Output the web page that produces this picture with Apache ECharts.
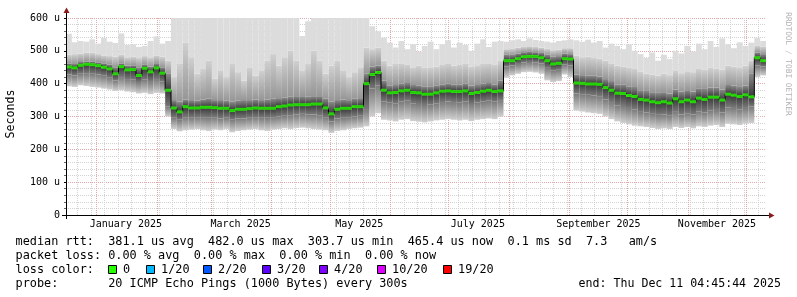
<!DOCTYPE html>
<html><head><meta charset="utf-8">
<script src="https://cdn.jsdelivr.net/npm/echarts@6/dist/echarts.min.js"></script>
<style>html,body{margin:0;padding:0;background:#fff}#c{width:797px;height:297px}</style>
</head><body><div id="c"></div>
<script>
// ---- time range ----
const startMs = Date.UTC(2024, 11, 16, 4, 45, 44);
const endMs = Date.UTC(2025, 11, 11, 4, 45, 44);
const stepDays = 3;

// ---- data (microseconds), one value per 3-day step ----
const medianRtt = [451,448,456,459,458,455,450,445,430,452,442,443,425,447,436,448,432,380,
  326,314,330,326,326,328,328,327,325,325,318,322,322,324,326,325,325,325,330,332,335,336,336,336,338,338,326,308,322,325,325,330,330,
  400,428,434,380,
  372,373,378,380,373,372,368,368,372,377,378,376,376,378,370,373,377,380,376,378,
  470,470,476,482,483,483,479,470,460,462,476,475,
  402,401,399,399,398,388,380,371,370,364,361,352,350,345,342,345,341,354,345,350,345,356,352,359,359,350,368,365,361,366,360,
  479,470];
const minRtt = [392,390,395,393,390,388,385,382,378,380,376,374,370,372,368,372,370,300,
  262,255,258,260,262,258,256,260,258,262,252,256,258,260,262,258,256,260,262,264,262,265,266,264,262,260,258,250,256,258,262,264,266,
  270,300,310,290,
  288,285,290,292,286,284,282,285,288,290,292,290,288,290,286,290,292,294,292,300,
  418,425,430,435,436,434,430,410,405,408,428,420,
  318,315,312,310,308,300,292,285,280,276,272,270,268,265,262,264,262,268,265,268,264,270,268,272,274,268,278,276,274,278,280,
  420,425];
const lowQuart = [428,425,430,432,430,428,424,418,410,420,414,412,405,412,408,414,406,330,
  296,290,298,296,298,298,296,298,294,296,290,294,294,296,298,296,296,298,300,302,304,306,308,306,306,304,298,285,294,296,298,300,302,
  320,385,395,345,
  342,340,345,348,340,338,335,336,340,344,346,344,342,345,338,342,345,348,345,350,
  452,455,460,465,466,465,462,448,440,442,458,455,
  370,368,366,364,362,352,344,334,332,326,322,314,312,308,305,306,304,314,306,310,306,316,312,318,320,312,328,326,322,326,330,
  455,452];
const highQuart = [462,460,466,468,468,465,462,458,450,462,455,456,448,458,452,460,450,430,
  350,345,352,350,348,352,354,350,350,348,345,348,350,350,352,350,352,354,356,358,360,362,362,360,362,362,354,345,350,352,350,354,356,
  430,452,455,410,
  395,396,400,402,396,395,392,392,395,398,400,398,398,400,394,396,400,402,398,410,
  488,488,492,496,497,496,494,488,482,484,492,490,
  428,426,424,424,422,414,408,398,398,392,390,380,378,374,372,374,370,382,376,380,376,386,384,388,388,382,396,394,390,394,430,
  495,490];
const high90 = [488,490,492,495,494,490,486,484,482,488,480,482,478,484,480,486,482,470,
  420,460,525,480,430,445,470,415,440,420,460,435,410,450,425,440,470,490,455,480,500,470,440,460,500,470,430,455,470,440,420,435,450,
  510,505,510,470,
  455,460,462,458,450,455,448,450,452,458,462,455,458,460,452,456,460,462,458,470,
  505,506,510,512,514,512,510,506,502,504,508,508,
  485,480,482,478,476,470,462,455,452,448,445,436,430,428,425,430,426,440,432,438,435,445,442,448,446,442,455,452,450,455,470,
  515,512];
const maxRtt = [552,526,530,528,535,522,540,528,524,553,518,520,512,515,530,544,522,530,
  650,650,650,650,650,650,650,650,650,650,650,650,650,650,650,650,650,650,650,650,650,640,545,590,650,650,650,650,650,650,650,650,650,
  650,575,560,540,
  525,510,530,505,520,498,515,528,505,520,532,510,525,518,500,522,535,512,528,530,
  528,532,535,530,538,533,530,528,525,530,532,535,
  532,528,534,525,530,510,522,515,505,520,500,490,478,495,470,488,475,500,492,515,498,522,505,530,512,538,520,508,526,515,525,
  540,530];

// ---- axis ticks / labels ----
const yTickValues = [0, 100, 200, 300, 400, 500, 600];
const monthStarts = ['2025-01-01','2025-02-01','2025-03-01','2025-04-01','2025-05-01','2025-06-01',
  '2025-07-01','2025-08-01','2025-09-01','2025-10-01','2025-11-01','2025-12-01'];
const monthLabelDates = ['2025-01-16','2025-03-16','2025-05-16','2025-07-16','2025-09-16','2025-11-16'];
const monthLabelTexts = ['January 2025','March 2025','May 2025','July 2025','September 2025','November 2025'];
const firstWeekLine = '2024-12-22';

// ---- legend text ----
const statLine1 = 'median rtt:  381.1 us avg  482.0 us max  303.7 us min  465.4 us now  0.1 ms sd  7.3   am/s';
const statLine2 = 'packet loss: 0.00 % avg  0.00 % max  0.00 % min  0.00 % now';
const lossTitle = 'loss color:';
const lossLabels = ['0','1/20','2/20','3/20','4/20','10/20','19/20'];
const lossColors = ['#26ff00','#00b8ff','#0059ff','#5e00ff','#7e00ff','#dd00ff','#ff0000'];
const probeLine = 'probe:       20 ICMP Echo Pings (1000 Bytes) every 300s';
const endLine = 'end: Thu Dec 11 04:45:44 2025';
const yTitle = 'Seconds';
const sideText = 'RRDTOOL / TOBI OETIKER';

// ---- build ----
const toMs = s => Date.parse(s + 'T00:00:00Z');
const monthMs = monthStarts.map(toMs);
const labelMs = monthLabelDates.map(toMs);
const weekMs = [];
for (let t = toMs(firstWeekLine); t < endMs; t += 7 * 86400000) weekMs.push(t);
const cats = medianRtt.map((_, i) => String(i));
const diff = (a, b) => a.map((v, i) => v - b[i]);

const MONO = '"DejaVu Sans Mono", monospace';
const LEGEND_FONT = '11.85px ' + MONO;
const grad = (top, bottom) => new echarts.graphic.LinearGradient(0, 0, 0, 1, [
  { offset: 0, color: top }, { offset: 1, color: bottom }]);

const barBase = { type: 'bar', stack: 'smoke', xAxisIndex: 0, yAxisIndex: 0, barWidth: '100%',
  barCategoryGap: '0%', silent: true, clip: true, animation: false };

const G = { left: 66, right: 31, top: 18, bottom: 82 };

const chart = echarts.init(document.getElementById('c'), null, { renderer: 'canvas' });

const graphics = [];
// axis lines and arrows
graphics.push({ type: 'line', shape: { x1: 62, y1: 215.5, x2: 770, y2: 215.5 }, style: { stroke: '#000', lineWidth: 1 }, z: 100 });
graphics.push({ type: 'line', shape: { x1: 66.5, y1: 219, x2: 66.5, y2: 12 }, style: { stroke: '#000', lineWidth: 1 }, z: 100 });
graphics.push({ type: 'polygon', shape: { points: [[63.5, 13], [69.5, 13], [66.5, 7.5]] }, style: { fill: '#8b1c1c' }, z: 101 });
graphics.push({ type: 'polygon', shape: { points: [[769, 212.5], [769, 218.5], [774.5, 215.5]] }, style: { fill: '#8b1c1c' }, z: 101 });
// titles
graphics.push({ type: 'text', x: 11, y: 114, rotation: Math.PI / 2,
  style: { text: yTitle, font: '11.6px ' + MONO, fill: '#000', textAlign: 'center', textVerticalAlign: 'middle', verticalAlign: 'middle' } });
graphics.push({ type: 'text', x: 788, y: 64, rotation: -Math.PI / 2,
  style: { text: sideText, font: '7.8px ' + MONO, fill: '#b0b0b0', textAlign: 'center', textVerticalAlign: 'middle', verticalAlign: 'middle' } });
// legend lines
const txt = (s, x, y, align, font) => ({ type: 'text', x: x, y: y,
  style: { text: s, font: font || LEGEND_FONT, fill: '#000', textAlign: align || 'left', textVerticalAlign: 'middle', verticalAlign: 'middle' } });
graphics.push(txt(statLine1, 15.5, 241.5));
graphics.push(txt(statLine2, 15.5, 255.5));
graphics.push(txt(lossTitle, 15.5, 269.5));
graphics.push(txt(probeLine, 15.5, 283.5));
graphics.push(txt(endLine, 781, 283.5, 'right', '11.6px ' + MONO));
const boxX = [108, 146, 203, 262, 319, 377, 443];
lossLabels.forEach((l, i) => {
  graphics.push({ type: 'rect', shape: { x: boxX[i] + 0.5, y: 265.5, width: 8, height: 8 },
    style: { fill: lossColors[i], stroke: '#000', lineWidth: 1 } });
  graphics.push(txt(l, boxX[i] + 15, 269.5));
});

const option = {
  backgroundColor: '#fff',
  animation: false,
  grid: G,
  xAxis: [
    { type: 'category', data: cats, show: false, boundaryGap: true, position: 'bottom' },
    { type: 'value', min: startMs, max: endMs, position: 'bottom',
      axisLine: { show: false }, axisLabel: { show: false },
      axisTick: { show: false, customValues: weekMs },
      splitLine: { show: true, lineStyle: { color: '#d2d2d2', width: 1, type: [1, 1] } } },
    { type: 'value', min: startMs, max: endMs, position: 'bottom',
      axisLine: { show: false },
      axisTick: { show: false, customValues: monthMs },
      axisLabel: { show: true, customValues: labelMs, margin: 4, color: '#000',
        fontFamily: 'DejaVu Sans Mono', fontSize: 10,
        formatter: v => { const k = labelMs.indexOf(v); return k >= 0 ? monthLabelTexts[k] : ''; } },
      splitLine: { show: true, lineStyle: { color: '#e4a8a8', width: 1, type: [1, 1] } } }
  ],
  yAxis: [{ type: 'value', min: yTickValues[0], max: yTickValues[yTickValues.length - 1], interval: 100,
    axisLine: { show: false },
    axisTick: { show: true, length: 2, lineStyle: { color: '#000' } },
    minorTick: { show: true, splitNumber: 5, length: 2, lineStyle: { color: '#666' } },
    axisLabel: { margin: 6, color: '#000', fontFamily: 'DejaVu Sans Mono', fontSize: 10,
      formatter: v => v === 0 ? '0' : v + ' u' },
    splitLine: { show: true, lineStyle: { color: '#e4a8a8', width: 1, type: [1, 1] } },
    minorSplitLine: { show: true, lineStyle: { color: '#d2d2d2', width: 1, type: [1, 1] } } }],
  series: [
    Object.assign({}, barBase, { name: 'base', data: minRtt, itemStyle: { color: 'rgba(0,0,0,0)' } }),
    Object.assign({}, barBase, { name: 'low', data: diff(lowQuart, minRtt), itemStyle: { color: grad('#7a7a7a', '#d0d0d0') } }),
    Object.assign({}, barBase, { name: 'lowmid', data: diff(medianRtt, lowQuart), itemStyle: { color: grad('#383838', '#7a7a7a') } }),
    Object.assign({}, barBase, { name: 'highmid', data: diff(highQuart, medianRtt), itemStyle: { color: grad('#8a8a8a', '#383838') } }),
    Object.assign({}, barBase, { name: 'high', data: diff(high90, highQuart), itemStyle: { color: grad('#d0d0d0', '#969696') } }),
    Object.assign({}, barBase, { name: 'top', data: diff(maxRtt, high90), itemStyle: { color: '#dcdcdc' } }),
    { type: 'line', name: 'medianLine', xAxisIndex: 0, yAxisIndex: 0, data: medianRtt, step: 'middle',
      symbol: 'none', lineStyle: { color: '#000', width: 1 }, silent: true, z: 5 },
    { type: 'scatter', name: 'median', xAxisIndex: 0, yAxisIndex: 0, data: medianRtt, symbol: 'rect',
      symbolSize: [6, 3], itemStyle: { color: lossColors[0] }, silent: true, z: 6 }
  ],
  graphic: graphics
};
chart.setOption(option);
</script></body></html>
